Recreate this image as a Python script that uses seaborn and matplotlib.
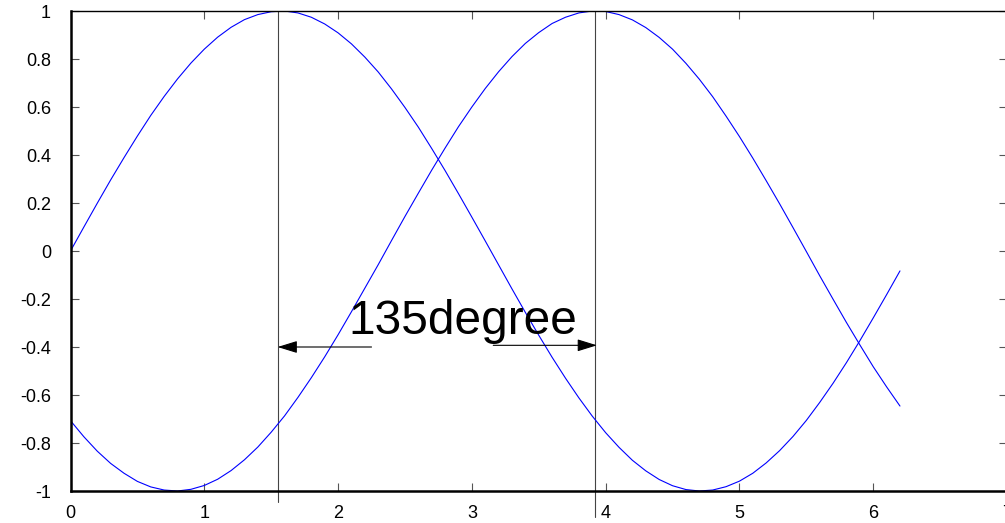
import matplotlib
matplotlib.use('Agg')
import matplotlib.pyplot as plt
import pandas as pd
import seaborn as sns

# valores (passo 0.1 em x)
x = [round(i * 0.1, 1) for i in range(63)]
seno = [
    0.000, 0.100, 0.199, 0.296, 0.389, 0.479, 0.565, 0.644, 0.717, 0.783,
    0.841, 0.891, 0.932, 0.964, 0.985, 0.997, 1.000, 0.992, 0.974, 0.946,
    0.909, 0.863, 0.808, 0.746, 0.675, 0.598, 0.516, 0.427, 0.335, 0.239,
    0.141, 0.042, -0.058, -0.158, -0.256, -0.351, -0.443, -0.530, -0.612, -0.688,
    -0.757, -0.818, -0.872, -0.916, -0.952, -0.978, -0.994, -1.000, -0.996, -0.982,
    -0.959, -0.926, -0.883, -0.832, -0.773, -0.706, -0.631, -0.551, -0.465, -0.374,
    -0.279, -0.182, -0.083,
]
seno_defasado = [
    -0.707, -0.774, -0.834, -0.885, -0.926, -0.960, -0.983, -0.996, -1.000, -0.993,
    -0.977, -0.951, -0.915, -0.870, -0.817, -0.755, -0.687, -0.610, -0.528, -0.441,
    -0.349, -0.253, -0.155, -0.057, 0.044, 0.144, 0.241, 0.337, 0.429, 0.518,
    0.600, 0.677, 0.747, 0.810, 0.865, 0.910, 0.948, 0.974, 0.992, 1.000,
    0.998, 0.985, 0.963, 0.931, 0.890, 0.841, 0.782, 0.716, 0.643, 0.562,
    0.477, 0.387, 0.293, 0.197, 0.098, -0.002, -0.103, -0.201, -0.298, -0.391,
    -0.482, -0.566, -0.646,
]
picos = [1.548, 3.918]
picos_fim = [-1.045, -1.11]
seta_esq = (2.25, 1.548)
seta_dir = (3.16, 3.935)
y_seta = [-0.4, -0.393]
rotulo = '135degree'

x_ticks = [0, 1, 2, 3, 4, 5, 6, 7]
y_ticks = [-1, -0.8, -0.6, -0.4, -0.2, 0, 0.2, 0.4, 0.6, 0.8, 1]
y_labels = ['-1', '-0.8', '-0.6', '-0.4', '-0.2', '0', '0.2', '0.4', '0.6', '0.8', '1']

sns.set_theme(style='white')
plt.rcParams['font.family'] = ['Liberation Sans', 'DejaVu Sans']

df = pd.DataFrame({'x': x + x,
                   'y': seno + seno_defasado,
                   'serie': ['sin'] * len(x) + ['sin2'] * len(x)})

fig = plt.figure(figsize=(10.05, 5.23), dpi=100)
ax = fig.add_axes([70.5 / 1005, 32 / 523, 936.5 / 1005, 480 / 523])

sns.lineplot(data=df, x='x', y='y', units='serie', estimator=None,
             color='#0000ff', linewidth=0.8, ax=ax, legend=False)

for p, fim in zip(picos, picos_fim):
    ax.plot([p, p], [1, fim], color='#444444', linewidth=0.8, zorder=1,
            clip_on=False)

estilo_seta = '-|>,head_length=0.55,head_width=0.17'
ax.annotate('', xy=(seta_esq[1], y_seta[0]), xytext=(seta_esq[0], y_seta[0]),
            arrowprops=dict(arrowstyle=estilo_seta, color='black', lw=0.8,
                            mutation_scale=22, shrinkA=0, shrinkB=0))
ax.annotate('', xy=(seta_dir[1], y_seta[1]), xytext=(seta_dir[0], y_seta[1]),
            arrowprops=dict(arrowstyle=estilo_seta, color='black', lw=0.8,
                            mutation_scale=22, shrinkA=0, shrinkB=0))
ax.text(2.074, -0.347, rotulo, fontsize=34.5, color='black', ha='left',
        va='baseline')

ax.set_xlim(0, 7)
ax.set_ylim(-1, 1)
ax.set_xticks(x_ticks)
ax.set_yticks(y_ticks)
ax.set_yticklabels(y_labels)
ax.set_xlabel('')
ax.set_ylabel('')

ax.tick_params(direction='in', length=6, width=0.8, color='#555555',
               labelsize=13, labelcolor='black', top=True, right=True,
               bottom=True, left=True)
ax.tick_params(axis='x', pad=10)
ax.tick_params(axis='y', pad=14)

for lado in ['left', 'bottom']:
    ax.spines[lado].set_linewidth(1.8)
    ax.spines[lado].set_color('black')
ax.spines['top'].set_linewidth(1.0)
ax.spines['top'].set_color('black')
ax.spines['right'].set_visible(False)
ax.set_facecolor('white')

fig.savefig('out.png', dpi=100, facecolor='white')
